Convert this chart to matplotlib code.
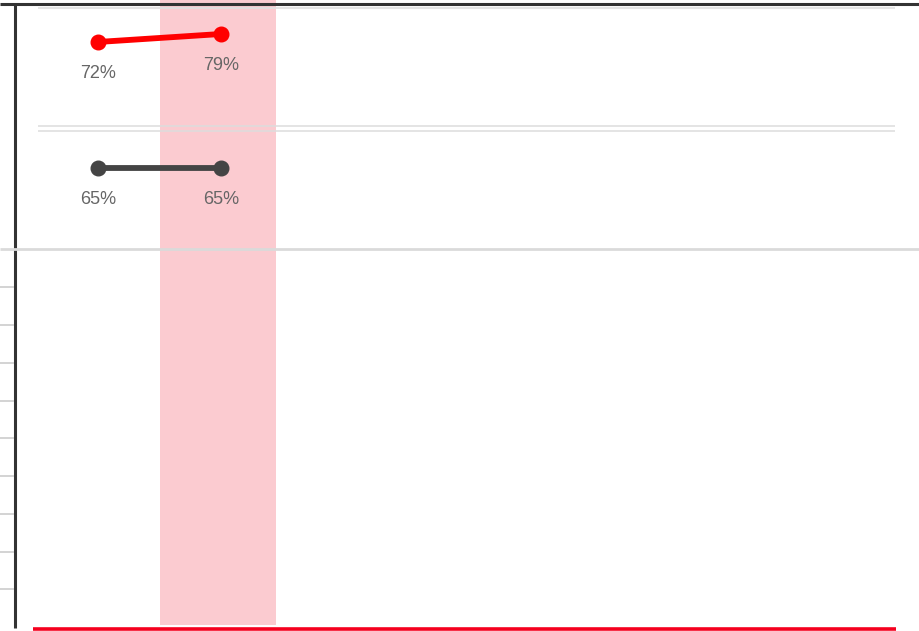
import matplotlib.pyplot as plt
from matplotlib.lines import Line2D

# data
categories = ["A", "B"]
series_top = [72, 79]
series_bottom = [65, 65]
top_labels = ["72%", "79%"]
bottom_labels = ["65%", "65%"]
highlight = 1  # highlighted category

W, H = 920, 631
plt.rcParams["font.family"] = ["Liberation Sans", "DejaVu Sans"]

fig = plt.figure(figsize=(W / 100, H / 100), dpi=100)


def fx(x):
    return x / W


def fy(y):
    return 1 - y / H


# x scale shared by all panels: 7 slots, first category at 98px, 123px apart
x_left, x_right = 38, 895
xlim = (-(98 - x_left) / 123, (x_right - 98) / 123)
xs = list(range(len(categories)))

# background axes for the highlight band
bg = fig.add_axes([fx(x_left), 0, fx(x_right - x_left), 1], zorder=-1)
bg.set_xlim(*xlim)
bg.set_ylim(0, 1)
bg.axis("off")
bg.axvspan(highlight - 0.496, highlight + 0.447, ymin=6 / H, ymax=1,
           color="#fbcbd0", lw=0)


def panel(y0, y1, values, labels, color, ylim):
    ax = fig.add_axes([fx(x_left), fy(y1), fx(x_right - x_left), (y1 - y0) / H])
    ax.patch.set_visible(False)
    ax.axis("off")
    ax.set_xlim(*xlim)
    ax.set_ylim(*ylim)
    ax.plot(xs, values, color=color, lw=4.2, marker="o", ms=10.5,
            solid_capstyle="round", clip_on=False)
    for x, v, t in zip(xs, values, labels):
        ax.annotate(t, (x, v), xytext=(0, -22.5), textcoords="offset points",
                    ha="center", va="center", fontsize=13, color="#666666")
    return ax


panel(7, 126, series_top, top_labels, "#ff0000", (-1.5, 102.6))
panel(131, 248, series_bottom, bottom_labels, "#444444", (-5, 97.4))


def hline(y, x0, x1, color, lw):
    fig.add_artist(Line2D([fx(x0), fx(x1)], [fy(y), fy(y)], color=color,
                          lw=lw, solid_capstyle="butt"))


# frame and separators
hline(3.5, 0, 920, "#333333", 2.2)
fig.add_artist(Line2D([fx(15), fx(15)], [fy(3), fy(628)], color="#333333",
                      lw=2.2, solid_capstyle="butt"))
hline(7.8, 38, 895, "#e0e0e0", 1.2)
hline(126.3, 38, 895, "#dcdcdc", 1.1)
hline(131.3, 38, 895, "#dcdcdc", 1.1)
hline(248.5, 0, 920, "#dadada", 2.0)
for ty in [287, 325, 363, 401, 438, 476, 514, 552, 589]:
    hline(ty, 0, 14, "#d0d0d0", 1.3)
hline(629.2, 33, 896, "#f5001e", 2.6)

fig.savefig("out.png", dpi=100)
